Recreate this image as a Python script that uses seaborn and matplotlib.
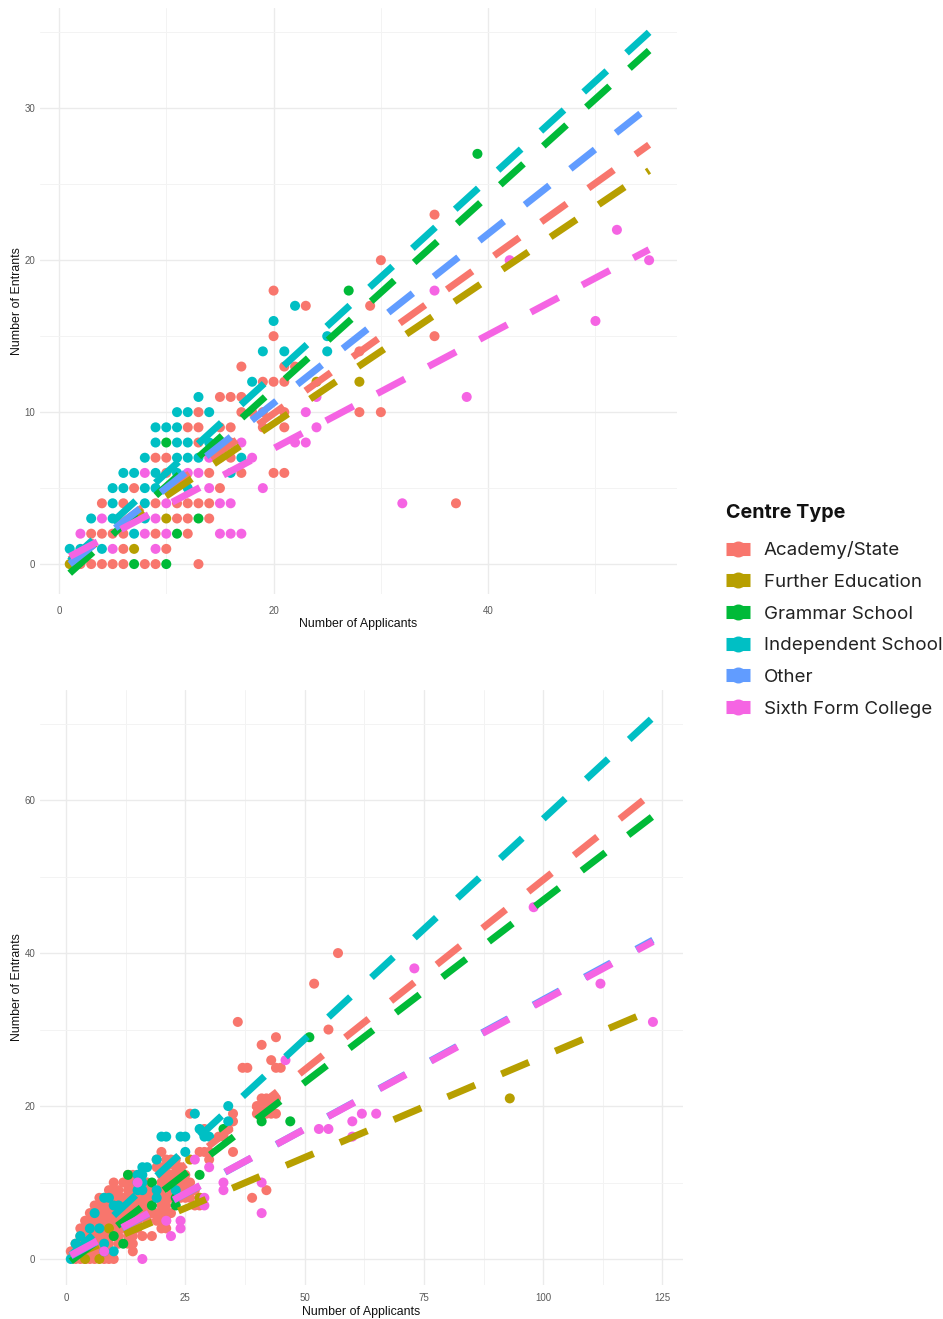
import matplotlib
matplotlib.use("Agg")
import matplotlib.pyplot as plt
from matplotlib.lines import Line2D
import pandas as pd
import seaborn as sns

W, H = 943, 1319
CENTRES = ["Academy/State", "Further Education", "Grammar School",
           "Independent School", "Other", "Sixth Form College"]
COLOURS = ["#F8766D", "#B79F00", "#00BA38", "#00BFC4", "#619CFF", "#F564E3"]

def rows(d):
    return [(x, y) for y, xs in d.items() for x in xs]

# ---- upper panel -------------------------------------------------------
top_academy = rows({0: [2, 3, 4, 5, 6, 8, 9, 13], 1: [6, 10], 2: [3, 4, 5, 6, 9, 12],
                    3: [11, 12, 14], 4: [4, 6, 9, 11, 12, 13, 14, 37], 5: [7, 15],
                    6: [10, 14, 17, 20, 21], 7: [9, 10, 15, 16], 8: [13, 15, 16],
                    9: [12, 13, 15, 16, 21, 19], 10: [13, 17, 18, 19, 21, 28, 30],
                    11: [15, 16, 17], 12: [19, 20, 21], 13: [17, 21, 22],
                    14: [28], 15: [20, 35], 17: [23, 29], 18: [20], 20: [30],
                    23: [35]})
top_further = rows({0: [1], 1: [7], 3: [10], 12: [24, 28]})
top_grammar = rows({0: [7, 10], 2: [11], 3: [13], 8: [10], 18: [27], 27: [39]})
top_independent = rows({1: [1, 2, 4], 2: [7], 3: [3, 5, 8], 4: [5, 8], 5: [5, 6, 8, 9, 12],
                        6: [6, 7, 9, 11, 16], 7: [8, 11, 12, 13, 17],
                        8: [9, 11, 12, 14], 9: [9, 10, 11], 10: [11, 12, 14],
                        11: [13], 12: [18], 14: [19, 21, 25], 15: [25], 16: [20], 17: [22]})
top_other = rows({})
top_sixth = rows({1: [5, 9], 2: [2, 8, 10, 15, 16, 17], 3: [4, 9], 4: [10, 15, 16, 32],
                  5: [14, 19], 6: [8, 12, 13], 7: [14, 18], 8: [17, 22, 23], 9: [24],
                  10: [23], 11: [24, 38], 16: [50], 18: [35], 20: [42, 55], 22: [52]})
top_points = [top_academy, top_further, top_grammar, top_independent, top_other, top_sixth]
top_line_x = [1, 55]
top_line_start = [0.3, 0.2, -0.6, 0.2, 0.0, 0.5]
top_line_end = [27.6, 25.9, 33.8, 35.0, 30.1, 20.7]

# ---- lower panel -------------------------------------------------------
low_academy = rows({0: [2, 3, 4, 5, 6, 8, 9, 10], 1: [1, 2, 3, 4, 5, 6, 7, 8, 9, 14],
                    2: [2, 3, 4, 5, 6, 7, 9, 11, 13, 14],
                    3: [3, 4, 5, 6, 7, 8, 9, 11, 13, 14, 16, 18],
                    4: [3, 4, 5, 6, 7, 8, 9, 10, 11, 12, 13, 14, 15, 20, 21],
                    5: [4, 5, 6, 7, 8, 9, 10, 11, 12, 13, 14, 15, 17, 19, 20, 21],
                    6: [5, 6, 7, 8, 9, 10, 11, 12, 13, 14, 15, 16, 17, 18, 19, 20, 21, 22],
                    7: [6, 7, 8, 9, 10, 11, 12, 13, 14, 15, 16, 17, 20, 21, 27, 28],
                    8: [7, 8, 9, 10, 11, 12, 13, 14, 15, 16, 17, 18, 19, 20, 21, 22, 24, 25, 26, 28, 39],
                    9: [9, 10, 11, 13, 14, 15, 16, 17, 18, 20, 22, 23, 24, 25, 26, 27, 42],
                    10: [10, 12, 13, 14, 15, 16, 17, 20, 21, 22, 23, 24, 25, 26],
                    11: [13, 14, 15, 20, 21, 22, 23, 24, 25], 12: [19, 20, 21, 23, 24],
                    13: [19, 21, 22, 23, 30], 14: [20, 28, 29, 30, 35], 16: [32, 33],
                    17: [29, 34], 18: [35], 19: [26, 35, 40, 41, 42, 43, 44],
                    20: [40, 41, 42, 43], 21: [41, 42, 43, 44], 25: [37, 38, 44, 45],
                    26: [43], 28: [41], 29: [44], 30: [55], 31: [36], 36: [52], 40: [57]})
low_further = rows({0: [4, 7], 2: [5], 4: [9], 8: [28], 13: [26], 21: [93]})
low_grammar = rows({2: [12], 3: [10], 7: [18, 23], 8: [23], 10: [18], 11: [13, 28], 17: [33],
                    18: [41, 47], 29: [51]})
low_independent = rows({0: [1], 1: [8, 10], 2: [2, 8], 3: [3], 4: [5, 7], 6: [6], 7: [10, 11],
                        8: [8, 9, 19], 9: [15, 16, 19, 23], 10: [15, 16], 11: [15, 16],
                        12: [16, 17], 13: [19], 14: [25], 16: [20, 21, 24, 25, 29, 30],
                        17: [28], 18: [34], 19: [27], 20: [34]})
low_other = rows({})
low_sixth = rows({0: [16], 1: [8], 2: [5], 3: [22], 4: [24], 5: [21, 24], 6: [41], 7: [29],
                  8: [29], 9: [33], 10: [15, 33, 41], 12: [30], 13: [27], 16: [60],
                  17: [53, 55], 18: [60], 19: [62, 65], 26: [46], 31: [123],
                  36: [112], 38: [73], 46: [98]})
low_points = [low_academy, low_further, low_grammar, low_independent, low_other, low_sixth]
low_line_x = [1, 123]
low_line_start = [0.4, 0.3, -0.3, 0.5, 0.4, 0.5]
low_line_end = [61.0, 32.6, 57.9, 70.8, 41.7, 41.5]

# ---- drawing -----------------------------------------------------------
sns.set_theme(style="white")
plt.rcParams["font.family"] = ["Liberation Sans", "DejaVu Sans"]
fig = plt.figure(figsize=(W / 100, H / 100), dpi=100)
palette = dict(zip(CENTRES, COLOURS))


def panel(box, points, line_x, starts, ends, xlim, ylim, xmajor, xminor, ymajor, yminor,
          xpad, xtickpad, dash):
    l, t, r, b = box
    ax = fig.add_axes([l / W, 1 - b / H, (r - l) / W, (b - t) / H])
    pts = pd.DataFrame([(c, x, y) for c, p in zip(CENTRES, points) for x, y in p],
                       columns=["centre", "x", "y"])
    sns.scatterplot(data=pts, x="x", y="y", hue="centre", palette=palette, hue_order=CENTRES,
                    s=52, linewidth=0, legend=False, ax=ax, zorder=3)
    lines = pd.DataFrame([(c, xv, v) for c, s, e in zip(CENTRES, starts, ends)
                          for xv, v in zip(line_x, (s, e))], columns=["centre", "x", "y"])
    sns.lineplot(data=lines, x="x", y="y", hue="centre", palette=palette, hue_order=CENTRES,
                 estimator=None, sort=False, legend=False, ax=ax, zorder=4,
                 linewidth=5.0, linestyle=(0, dash), dash_capstyle="butt")
    ax.set_xlim(*xlim)
    ax.set_ylim(*ylim)
    ax.set_xticks(xmajor)
    ax.set_yticks(ymajor)
    ax.set_xticks(xminor, minor=True)
    ax.set_yticks(yminor, minor=True)
    ax.grid(True, which="major", color="#EBEBEB", linewidth=1.0, zorder=0)
    ax.grid(True, which="minor", color="#F3F3F3", linewidth=0.7, zorder=0)
    ax.set_axisbelow(True)
    ax.tick_params(which="both", length=0, labelsize=7, labelcolor="#5A5A5A")
    ax.tick_params(axis="x", pad=xtickpad)
    ax.tick_params(axis="y", pad=3.5)
    for s in ax.spines.values():
        s.set_visible(False)
    ax.set_xlabel("Number of Applicants", fontsize=8.9, color="#111111", labelpad=xpad)
    ax.set_ylabel("Number of Entrants", fontsize=8.9, color="#111111")
    ax.yaxis.set_label_coords((23 - l) / (r - l), 0.5)
    return ax


panel((40, 8, 677, 594), top_points, top_line_x, top_line_start, top_line_end,
      (-1.77, 57.6), (-1.97, 36.6), [0, 20, 40], [10, 30, 50],
      [0, 10, 20, 30], [5, 15, 25, 35], 1.2, 9, (4.5, 3.85))
panel((40, 690, 683, 1285), low_points, low_line_x, low_line_start, low_line_end,
      (-5.45, 129.3), (-3.4, 74.4), [0, 25, 50, 75, 100, 125], [12.5, 37.5, 62.5, 87.5, 112.5],
      [0, 20, 40, 60], [10, 30, 50, 70], 2, 6, (4.3, 4.12))

handles = [Line2D([], [], color=c, linewidth=9.4, solid_capstyle="butt", marker="o",
                  markersize=11.5, markeredgewidth=0) for c in COLOURS]
leg = fig.legend(handles, CENTRES, loc="upper left", bbox_to_anchor=(709 / W, 1 - 487 / H),
                 frameon=False, handlelength=1.3, handletextpad=0.72, labelspacing=0.775,
                 alignment="left", title="Centre Type",
                 prop={"family": "Inter", "size": 13.5},
                 title_fontproperties={"family": "Inter", "size": 14.2, "weight": "bold"})
leg.get_title().set_color("#111111")
for t in leg.get_texts():
    t.set_color("#222222")
leg._legend_box.sep = 14

fig.savefig("out.png", dpi=100, facecolor="white")
